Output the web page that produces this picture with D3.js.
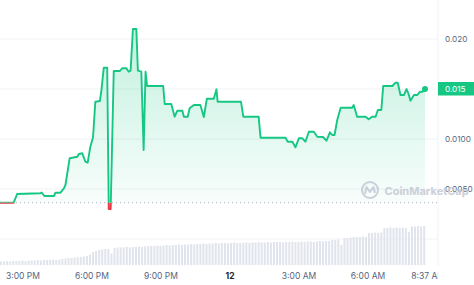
<!DOCTYPE html>
<html>
<head>
<meta charset="utf-8">
<script src="https://cdn.jsdelivr.net/npm/d3@7"></script>
<style>
  body { margin: 0; background: #fff; overflow: hidden; }
  text { font-family: Inter, "Noto Sans", sans-serif; }
</style>
</head>
<body>
<div class="container"></div>
<script>
const w = 474;
const h = 285;

// time of each price point, minutes after 2:00 PM
const start = new Date(2024, 0, 11, 14, 0);
const priceMinutes = [0, 37, 46, 107, 110, 117, 142, 146, 159, 168, 172, 183, 203, 207, 216, 224, 230, 237, 244, 250,
  262, 266, 272, 281, 285, 290, 298, 314, 320, 331, 337, 342, 348, 357, 361, 370, 376, 381, 385, 427,
  431, 448, 457, 464, 477, 481, 491, 496, 507, 524, 533, 541, 559, 566, 569, 630, 636, 676, 681, 746,
  752, 764, 772, 781, 790, 798, 807, 820, 829, 844, 853, 862, 868, 874, 881, 890, 920, 924, 933, 955,
  963, 972, 981, 987, 996, 1001, 1025, 1033, 1039, 1046, 1055, 1062, 1068, 1072, 1081, 1090, 1097, 1104, 1110];
const prices = [0.00363, 0.00363, 0.0045, 0.00457, 0.00465, 0.0043, 0.0043, 0.00463, 0.00463, 0.00507,
  0.0054, 0.00807, 0.00823, 0.0085, 0.00857, 0.00773, 0.00763, 0.00923, 0.01017, 0.01373,
  0.0138, 0.0149, 0.01713, 0.01713, 0.0030, 0.0030,
  0.0168, 0.0168, 0.01707, 0.01707, 0.01673, 0.01683, 0.0210, 0.0210, 0.01683, 0.01673,
  0.0089, 0.01673, 0.0153, 0.0153, 0.0135, 0.0135, 0.01223, 0.01283, 0.01283, 0.01223,
  0.01223, 0.01307, 0.0134, 0.0134, 0.0122, 0.01403, 0.01403, 0.01497, 0.01373, 0.01373,
  0.01223, 0.01223, 0.01013, 0.01013, 0.00973, 0.00973, 0.00917, 0.01007, 0.01007, 0.00973,
  0.01073, 0.01073, 0.01023, 0.0102, 0.00983, 0.01067, 0.0104, 0.0104, 0.0119, 0.01313,
  0.01313, 0.0134, 0.01223, 0.01223, 0.01197, 0.01223, 0.01223, 0.0129, 0.0129, 0.0153,
  0.0153, 0.01563, 0.01563, 0.0144, 0.0144, 0.015, 0.0144, 0.01383, 0.0144, 0.0144,
  0.01473, 0.01473, 0.015];
const openPrice = 0.00363;
const lastPrice = "0.015";

// volume bars, one every 8 minutes from 2:04 PM
const volStepMin = 8;
const volumes = [3.5, 3.5, 4, 3.5, 4, 4, 4, 4.5, 4, 4.5,
  4.5, 4.5, 5, 4.5, 5, 5, 5, 5.5, 5, 5.5,
  6, 6.5, 7, 7, 7.5, 8, 8, 8.5, 9, 10.5,
  13, 14, 15, 15.5, 16, 16, 11.5, 17, 17.5, 17.5,
  17.5, 18, 17.5, 18, 18, 18.5, 18, 18.5, 19, 19,
  19, 19.5, 19, 19.5, 20, 19.5, 20, 20, 20.5, 20,
  20.5, 20.5, 21, 20.5, 21, 21, 21.5, 21, 21.5, 21.5,
  22, 21.5, 22, 22, 21.5, 22, 22.5, 22, 22, 22.5,
  22.5, 22, 22.5, 22.5, 23, 22.5, 22.5, 23, 22.5, 23,
  23, 23, 22.5, 23, 23, 23.5, 23, 23, 23.5, 23,
  23.5, 23.5, 23, 23.5, 24, 23.5, 24, 24, 25, 25,
  25.5, 20, 27, 27, 27.5, 28, 28, 28, 28.5, 28,
  32, 32, 32.5, 32, 32.5, 37, 37, 37.5, 37, 37.5,
  37, 37.5, 37, 33, 38.5, 38.5, 39, 38.5, 39];

// axis labels
const xTickTimes = [new Date(2024, 0, 11, 15), new Date(2024, 0, 11, 18), new Date(2024, 0, 11, 21),
  new Date(2024, 0, 12, 0), new Date(2024, 0, 12, 3), new Date(2024, 0, 12, 6), new Date(2024, 0, 12, 8, 37)];
const xTickLabels = ["3:00 PM", "6:00 PM", "9:00 PM", "12", "3:00 AM", "6:00 AM", "8:37 AM"];
const yTickValues = [0.005, 0.01, 0.02];
const yTickLabels = ["0.0050", "0.0100", "0.020"];
const gridValues = [0, 0.005, 0.01, 0.015, 0.02];

const green = "#16c784";
const red = "#ea3943";
const plotRight = 438;

const svg = d3.select(".container")
  .append("svg")
  .attr("width", w)
  .attr("height", h);

const xScale = d3.scaleTime()
  .domain([new Date(2024, 0, 11, 15), new Date(2024, 0, 12, 6)])
  .range([22.5, 367.5]);
const yScale = d3.scaleLinear()
  .domain([0, 0.02])
  .range([239, 39]);
const volScale = d3.scaleLinear()
  .domain([0, 40])
  .range([265, 225]);

const data = priceMinutes.map((m, i) => ({ t: d3.timeMinute.offset(start, m), v: prices[i] }));
const baseY = yScale(openPrice);

const defs = svg.append("defs");
const grad = defs.append("linearGradient")
  .attr("id", "fillGrad")
  .attr("gradientUnits", "userSpaceOnUse")
  .attr("x1", 0).attr("x2", 0)
  .attr("y1", yScale(0.021)).attr("y2", baseY);
grad.append("stop").attr("offset", 0).attr("stop-color", green).attr("stop-opacity", 0.26);
grad.append("stop").attr("offset", 1).attr("stop-color", green).attr("stop-opacity", 0.03);

defs.append("clipPath").attr("id", "above")
  .append("rect").attr("x", 0).attr("y", 0).attr("width", plotRight).attr("height", baseY);
defs.append("clipPath").attr("id", "below")
  .append("rect").attr("x", 0).attr("y", baseY).attr("width", plotRight).attr("height", h - baseY);
defs.append("clipPath").attr("id", "plotClip")
  .append("rect").attr("x", 0).attr("y", 0).attr("width", plotRight).attr("height", h);

// gridlines
svg.append("g")
  .selectAll("line")
  .data(gridValues)
  .enter()
  .append("line")
  .attr("x1", 0)
  .attr("x2", plotRight)
  .attr("y1", d => yScale(d))
  .attr("y2", d => yScale(d))
  .attr("stroke", "#eff2f5")
  .attr("stroke-width", 1);

svg.append("line")
  .attr("x1", plotRight).attr("x2", plotRight)
  .attr("y1", 0).attr("y2", 266)
  .attr("stroke", "#eff2f5");

// volume
svg.append("g")
  .selectAll("rect")
  .data(volumes)
  .enter()
  .append("rect")
  .attr("x", (d, i) => xScale(d3.timeMinute.offset(start, 4 + i * volStepMin)) - 1)
  .attr("y", d => volScale(d))
  .attr("width", 2)
  .attr("height", d => volScale(0) - volScale(d))
  .attr("fill", "#e1e4ec");

// open price dotted line
svg.append("line")
  .attr("x1", 0).attr("x2", plotRight)
  .attr("y1", baseY).attr("y2", baseY)
  .attr("stroke", "#a6b0c3")
  .attr("stroke-width", 1)
  .attr("stroke-dasharray", "1,3");

const area = d3.area()
  .x(d => xScale(d.t))
  .y0(baseY)
  .y1(d => yScale(d.v));
const line = d3.line()
  .x(d => xScale(d.t))
  .y(d => yScale(d.v));

svg.append("path")
  .datum(data)
  .attr("d", area)
  .attr("fill", "url(#fillGrad)")
  .attr("clip-path", "url(#above)");

svg.append("path")
  .datum(data)
  .attr("d", line)
  .attr("fill", "none")
  .attr("stroke", green)
  .attr("stroke-width", 1.9)
  .attr("stroke-linejoin", "round")
  .attr("clip-path", "url(#above)");

svg.append("path")
  .datum(data)
  .attr("d", line)
  .attr("fill", "none")
  .attr("stroke", red)
  .attr("stroke-width", 1.9)
  .attr("stroke-linejoin", "round")
  .attr("clip-path", "url(#below)");

const last = data[data.length - 1];
svg.append("circle")
  .attr("cx", xScale(last.t))
  .attr("cy", yScale(last.v))
  .attr("r", 3)
  .attr("fill", green);

// y axis on the right
const yAxis = d3.axisRight(yScale)
  .tickValues(yTickValues)
  .tickSize(0)
  .tickPadding(7)
  .tickFormat((d, i) => yTickLabels[i]);
const yG = svg.append("g")
  .attr("transform", `translate(${plotRight},0)`)
  .call(yAxis);
yG.select(".domain").remove();
yG.selectAll("text")
  .attr("fill", "#58667e")
  .style("font-size", "8.2px")
  .style("font-family", "Inter, sans-serif");

// current price badge
svg.append("rect")
  .attr("x", plotRight)
  .attr("y", yScale(0.015) - 7)
  .attr("width", 40)
  .attr("height", 13.5)
  .attr("fill", green);
svg.append("text")
  .attr("x", plotRight + 7)
  .attr("y", yScale(0.015))
  .attr("dy", "0.35em")
  .attr("fill", "#fff")
  .style("font-size", "8.2px")
  .text(lastPrice);

// x axis
const xAxis = d3.axisBottom(xScale)
  .tickValues(xTickTimes)
  .tickSize(0)
  .tickPadding(8)
  .tickFormat((d, i) => xTickLabels[i]);
const xG = svg.append("g")
  .attr("transform", "translate(0,265)")
  .attr("clip-path", "url(#plotClip)")
  .call(xAxis);
xG.select(".domain").remove();
xG.selectAll("text")
  .attr("fill", "#58667e")
  .style("font-size", "8.5px")
  .style("font-family", "Inter, sans-serif")
  .filter((d, i) => xTickLabels[i] === "12")
  .attr("fill", "#222531")
  .style("font-weight", "700");

// watermark
const wm = svg.append("g").attr("opacity", 0.9);
wm.append("circle")
  .attr("cx", 370).attr("cy", 190).attr("r", 8)
  .attr("fill", "none")
  .attr("stroke", "#c6cbd6")
  .attr("stroke-width", 2);
wm.append("path")
  .attr("d", "M365,194 L366.5,187 L370,192 L373.5,187 L375,193")
  .attr("fill", "none")
  .attr("stroke", "#c6cbd6")
  .attr("stroke-width", 2)
  .attr("stroke-linejoin", "round");
wm.append("text")
  .attr("x", 384.5)
  .attr("y", 194.5)
  .attr("fill", "#c6cbd6")
  .style("font-size", "11px")
  .style("font-weight", "700")
  .text("CoinMarketCap");
</script>
</body>
</html>
